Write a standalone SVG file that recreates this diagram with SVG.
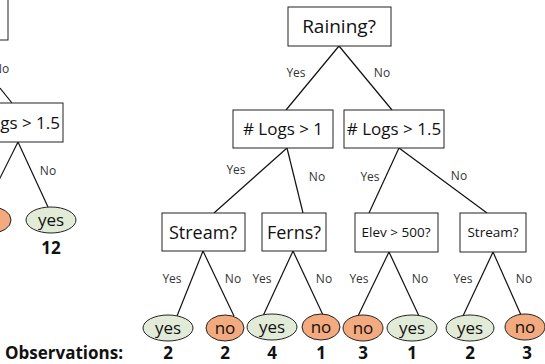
<svg xmlns="http://www.w3.org/2000/svg" width="545" height="364" viewBox="0 0 545 364">
<style>
.box{fill:#fff;stroke:#222;stroke-width:1}
.yes{fill:#e2ebd7;stroke:#222;stroke-width:1}
.no{fill:#f3aa7e;stroke:#222;stroke-width:1}
.t{font-family:"Open Sans","Noto Sans",sans-serif;fill:#111;text-anchor:middle}
.lbl{font-family:"Open Sans","Noto Sans",sans-serif;font-size:12px;fill:#333;text-anchor:middle}
.obs{font-family:"Open Sans","Noto Sans",sans-serif;font-size:17px;font-weight:bold;fill:#111;text-anchor:middle}
.ln{stroke:#111;stroke-width:1.2;fill:none}
</style>
<g id="connectors">
<line class="ln" x1="0" y1="88" x2="12" y2="103"/>
<line class="ln" x1="18" y1="142" x2="-4" y2="186"/>
<line class="ln" x1="18" y1="142" x2="48" y2="207"/>
<line class="ln" x1="339" y1="46" x2="286" y2="110"/>
<line class="ln" x1="339" y1="46" x2="392" y2="110"/>
<line class="ln" x1="287" y1="148" x2="214" y2="213"/>
<line class="ln" x1="287" y1="148" x2="303" y2="213"/>
<line class="ln" x1="399" y1="148" x2="369" y2="213"/>
<line class="ln" x1="399" y1="148" x2="487" y2="213"/>
<line class="ln" x1="203" y1="251" x2="177" y2="316"/>
<line class="ln" x1="203" y1="251" x2="234" y2="316"/>
<line class="ln" x1="293" y1="251" x2="263" y2="316"/>
<line class="ln" x1="293" y1="251" x2="323" y2="315"/>
<line class="ln" x1="389" y1="252" x2="358" y2="316"/>
<line class="ln" x1="389" y1="252" x2="419" y2="316"/>
<line class="ln" x1="493" y1="252" x2="463" y2="316"/>
<line class="ln" x1="493" y1="252" x2="521" y2="315"/>
</g>
<g id="edge-labels">
<text class="lbl" x="1" y="73">No</text>
<text class="lbl" x="48" y="175">No</text>
<text class="lbl" x="296" y="77">Yes</text>
<text class="lbl" x="382" y="77">No</text>
<text class="lbl" x="236" y="174">Yes</text>
<text class="lbl" x="317" y="181">No</text>
<text class="lbl" x="370" y="181">Yes</text>
<text class="lbl" x="459" y="180">No</text>
<text class="lbl" x="172" y="283">Yes</text>
<text class="lbl" x="233" y="283">No</text>
<text class="lbl" x="262" y="283">Yes</text>
<text class="lbl" x="324" y="283">No</text>
<text class="lbl" x="359" y="283">Yes</text>
<text class="lbl" x="420" y="283">No</text>
<text class="lbl" x="463" y="283">Yes</text>
<text class="lbl" x="524" y="283">No</text>
</g>
<g id="left-root"><rect class="box" x="-100" y="-2" width="108" height="42"/></g>
<g id="left-logs"><rect class="box" x="-37" y="103" width="100" height="39"/><text class="t" x="60" y="129" font-size="17" style="text-anchor:end"># Logs &gt; 1.5</text></g>
<g id="left-leaf-no"><ellipse class="no" cx="-8" cy="220" rx="19" ry="13"/></g>
<g id="left-leaf-yes"><ellipse class="yes" cx="51" cy="220" rx="25" ry="13"/><text class="t" x="51" y="226" font-size="17">yes</text></g>
<g id="left-count"><text class="obs" x="51" y="254">12</text></g>
<g id="raining"><rect class="box" x="288" y="7" width="103" height="39"/><text class="t" x="339" y="33" font-size="19">Raining?</text></g>
<g id="logs1"><rect class="box" x="233" y="110" width="100" height="38"/><text class="t" x="283" y="135" font-size="17"># Logs &gt; 1</text></g>
<g id="logs15"><rect class="box" x="344" y="110" width="100" height="38"/><text class="t" x="394" y="135" font-size="17"># Logs &gt; 1.5</text></g>
<g id="stream1"><rect class="box" x="162" y="213" width="83" height="38"/><text class="t" x="203" y="239" font-size="18">Stream?</text></g>
<g id="ferns"><rect class="box" x="262" y="213" width="64" height="38"/><text class="t" x="294" y="239" font-size="18">Ferns?</text></g>
<g id="elev"><rect class="box" x="355" y="213" width="83" height="39"/><text class="t" x="396" y="237" font-size="13.5">Elev &gt; 500?</text></g>
<g id="stream2"><rect class="box" x="460" y="213" width="66" height="39"/><text class="t" x="493" y="237" font-size="13.5">Stream?</text></g>
<g id="leaf1"><ellipse class="yes" cx="168" cy="328" rx="25" ry="13"/><text class="t" x="168" y="334" font-size="17">yes</text></g>
<g id="leaf2"><ellipse class="no" cx="225" cy="328" rx="19" ry="13"/><text class="t" x="225" y="334" font-size="17">no</text></g>
<g id="leaf3"><ellipse class="yes" cx="272" cy="327" rx="25" ry="13"/><text class="t" x="272" y="333" font-size="17">yes</text></g>
<g id="leaf4"><ellipse class="no" cx="321" cy="327" rx="19" ry="13"/><text class="t" x="321" y="333" font-size="17">no</text></g>
<g id="leaf5"><ellipse class="no" cx="363" cy="328" rx="20" ry="13"/><text class="t" x="363" y="334" font-size="17">no</text></g>
<g id="leaf6"><ellipse class="yes" cx="412" cy="328" rx="25" ry="13"/><text class="t" x="412" y="334" font-size="17">yes</text></g>
<g id="leaf7"><ellipse class="yes" cx="470" cy="328" rx="24" ry="13"/><text class="t" x="470" y="334" font-size="17">yes</text></g>
<g id="leaf8"><ellipse class="no" cx="525" cy="327" rx="20" ry="13"/><text class="t" x="525" y="333" font-size="17">no</text></g>
<g id="observations">
<text class="obs" x="5" y="359" style="text-anchor:start">Observations:</text>
<text class="obs" x="168" y="359">2</text>
<text class="obs" x="225" y="359">2</text>
<text class="obs" x="272" y="359">4</text>
<text class="obs" x="321" y="359">1</text>
<text class="obs" x="363" y="359">3</text>
<text class="obs" x="412" y="359">1</text>
<text class="obs" x="470" y="359">2</text>
<text class="obs" x="527" y="359">3</text>
</g>
</svg>
